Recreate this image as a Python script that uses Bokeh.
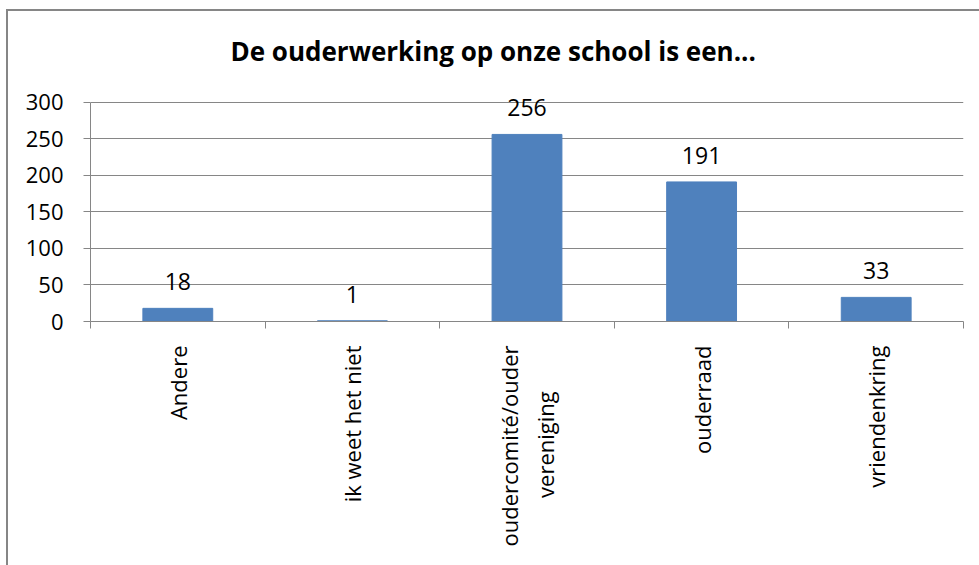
from bokeh.plotting import figure
from bokeh.models import (Range1d, FixedTicker, LabelSet, ColumnDataSource, Title)
from bokeh.core.properties import value
from bokeh.embed import file_html
from bokeh.resources import INLINE

title_text = "De ouderwerking op onze school is een..."
categories = ["Andere", "ik weet het niet", "oudercomité/ouder\nvereniging", "ouderraad", "vriendenkring"]
values = [18, 1, 256, 191, 33]
y_ticks = [0, 50, 100, 150, 200, 250, 300]
y_max = 300

BAR = "#4F81BD"
GRID = "#868686"
FONT = "Open Sans"

n = len(categories)
centers = [i + 0.5 for i in range(n)]
bounds = list(range(n + 1))

# Bokeh right-aligns the lines of a rotated multi-line tick label; pad the
# shorter line with non-breaking spaces so it appears centred as in the original
tick_text = [c.replace("\nvereniging", "\nvereniging" + "\u00a0" * 8) for c in categories]

src = ColumnDataSource(dict(x=centers, top=values, lab=[str(v) for v in values]))

# frame extends a little above the 300 line so the value labels are not clipped
p = figure(width=979, height=565, output_backend="svg", toolbar_location=None,
           x_range=Range1d(0, n), y_range=Range1d(0, y_max * 1.04),
           min_border_left=90, min_border_right=16, min_border_top=93, min_border_bottom=244,
           tools="")
p.outline_line_color = None
p.background_fill_color = "white"
p.border_fill_color = None
p.styles = {"box-shadow": "inset 6px 9px 0 0 white, inset 8px 11px 0 0 #868686",
            "background-color": "white"}

t = Title(text=title_text, align="left", offset=140, standoff=50, text_font=FONT,
          text_font_style="bold", text_font_size="26px", text_color="black")
p.add_layout(t, "above")

p.vbar(x="x", top="top", width=0.4, bottom=0, source=src, fill_color=BAR, line_color=BAR)

labels = LabelSet(x="x", y="top", text="lab", source=src, text_align="center",
                  text_baseline="alphabetic", y_offset=18, text_font_size=value("23px"),
                  text_font=value(FONT), text_color=value("black"))
p.add_layout(labels)

# x axis
xa = p.xaxis[0]
xa.ticker = FixedTicker(ticks=centers, minor_ticks=bounds)
xa.major_label_overrides = {c: lab for c, lab in zip(centers, tick_text)}
xa.major_label_orientation = 3.14159265 / 2
xa.major_tick_line_color = None
xa.minor_tick_in = 0
xa.minor_tick_out = 7
xa.minor_tick_line_color = GRID
xa.axis_line_color = GRID
xa.major_label_text_font = FONT
xa.major_label_text_font_size = "22px"
xa.major_label_text_color = "black"
xa.major_label_standoff = 17
p.xgrid.visible = False

ya = p.yaxis[0]
ya.ticker = FixedTicker(ticks=y_ticks)
ya.bounds = (0, y_max)
ya.minor_tick_line_color = None
ya.major_tick_in = 0
ya.major_tick_out = 7
ya.major_tick_line_color = GRID
ya.axis_line_color = GRID
ya.major_label_text_font = FONT
ya.major_label_text_font_size = "22px"
ya.major_label_text_color = "black"
ya.major_label_standoff = 20
p.ygrid.ticker = FixedTicker(ticks=y_ticks)
p.ygrid.grid_line_color = GRID
p.ygrid.grid_line_width = 1

open("out.html", "w").write(file_html(p, INLINE))
